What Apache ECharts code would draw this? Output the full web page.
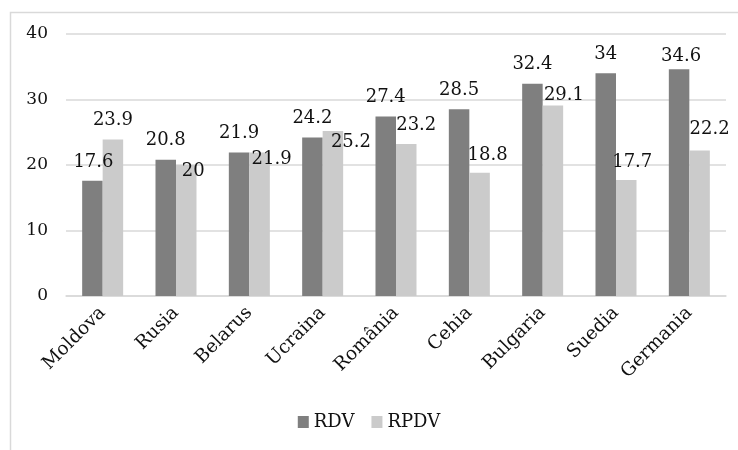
<!DOCTYPE html>
<html>
<head>
<meta charset="utf-8">
<script src="https://cdn.jsdelivr.net/npm/echarts@6/dist/echarts.min.js"></script>
<style>
  html, body { margin: 0; padding: 0; background: #fff; }
  #chart { width: 738px; height: 450px; }
</style>
</head>
<body>
<div id="chart"></div>
<script>
  const categories = ['Moldova', 'Rusia', 'Belarus', 'Ucraina', 'România', 'Cehia', 'Bulgaria', 'Suedia', 'Germania'];
  const rdv = [17.6, 20.8, 21.9, 24.2, 27.4, 28.5, 32.4, 34, 34.6];
  const rpdv = [23.9, 20, 21.9, 25.2, 23.2, 18.8, 29.1, 17.7, 22.2];
  const yTicks = [0, 10, 20, 30, 40];

  const font = 'DejaVu Serif';
  const textColor = '#111';

  // label nudges, as the labels sit in the source picture
  const rdvLabelShift = [[1, 1], [0, 0], [0, 0], [0, 0], [0, 0], [0, 0], [0, 0], [0, 0], [2, 6]];
  const rpdvLabelShift = [[0, 0], [7, 25], [12, 26], [18, 30], [10, 0], [8, 1], [11, 9], [6, 1], [10, -2]];

  const withLabels = (values, shifts) =>
    values.map((v, i) => ({ value: v, label: { offset: shifts[i] } }));

  const labelStyle = {
    show: true,
    position: 'top',
    distance: 10,
    fontFamily: font,
    fontSize: 18,
    color: textColor
  };

  const chart = echarts.init(document.getElementById('chart'));

  chart.setOption({
    animation: false,
    textStyle: { fontFamily: font },
    graphic: [{
      type: 'rect',
      shape: { x: 10.5, y: 12.5, width: 800, height: 600 },
      style: { fill: 'none', stroke: '#d9d9d9', lineWidth: 1.5 },
      silent: true
    }],
    grid: { left: 66, right: 12, top: 34, bottom: 154 },
    legend: {
      bottom: 14,
      left: 'center',
      itemWidth: 11,
      itemHeight: 12,
      itemGap: 17,
      icon: 'rect',
      textStyle: { fontFamily: font, fontSize: 18, color: textColor },
      data: ['RDV', 'RPDV']
    },
    xAxis: {
      type: 'category',
      data: categories,
      axisLine: { lineStyle: { color: '#d9d9d9', width: 1.5 } },
      axisTick: { show: false },
      axisLabel: {
        rotate: 45,
        margin: 14,
        interval: 0,
        fontFamily: font,
        fontSize: 18.5,
        color: textColor
      }
    },
    yAxis: {
      type: 'value',
      min: yTicks[0],
      max: yTicks[yTicks.length - 1],
      interval: 10,
      axisLine: { show: false },
      axisTick: { show: false },
      splitLine: { lineStyle: { color: '#d9d9d9', width: 1.5 } },
      axisLabel: { margin: 18, fontFamily: font, fontSize: 17, color: textColor }
    },
    series: [
      {
        name: 'RDV',
        type: 'bar',
        data: withLabels(rdv, rdvLabelShift),
        barWidth: 20.5,
        barGap: '0%',
        itemStyle: { color: '#7f7f7f' },
        label: labelStyle
      },
      {
        name: 'RPDV',
        type: 'bar',
        data: withLabels(rpdv, rpdvLabelShift),
        barWidth: 20.5,
        itemStyle: { color: '#cbcbcb' },
        label: labelStyle
      }
    ]
  });
</script>
</body>
</html>
